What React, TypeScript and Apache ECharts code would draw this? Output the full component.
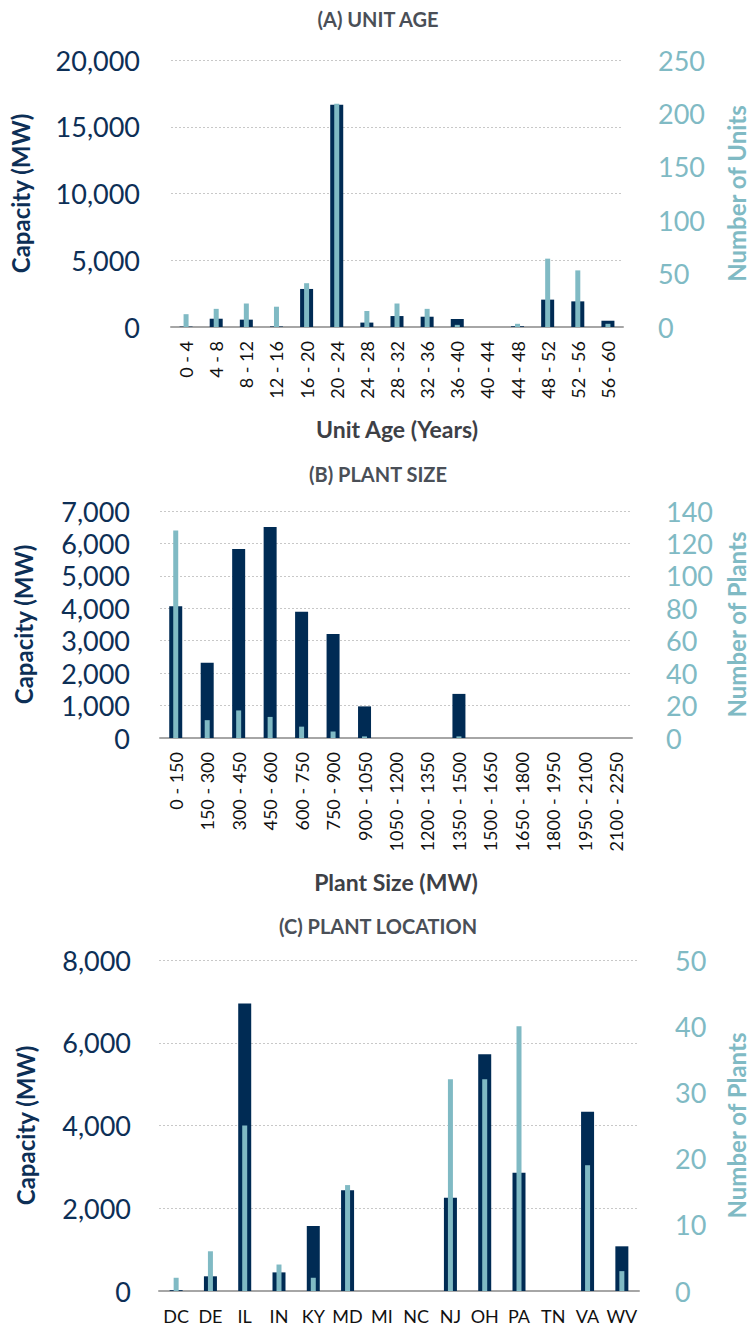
import React, { useEffect, useRef } from "react";
import * as echarts from "echarts";

const ageCats = ["0 - 4", "4 - 8", "8 - 12", "12 - 16", "16 - 20", "20 - 24", "24 - 28", "28 - 32", "32 - 36", "36 - 40", "40 - 44", "44 - 48", "48 - 52", "52 - 56", "56 - 60"];
const ageCapacity = [30, 620, 550, 40, 2850, 16650, 330, 820, 770, 600, 0, 50, 2050, 1920, 470];
const ageUnits = [12, 17, 22, 19, 41, 209, 15, 22, 17, 2, 0, 3, 64, 53, 3];

const sizeCats = ["0 - 150", "150 - 300", "300 - 450", "450 - 600", "600 - 750", "750 - 900", "900 - 1050", "1050 - 1200", "1200 - 1350", "1350 - 1500", "1500 - 1650", "1650 - 1800", "1800 - 1950", "1950 - 2100", "2100 - 2250"];
const sizeCapacity = [4060, 2320, 5830, 6510, 3890, 3210, 975, 0, 0, 1360, 0, 0, 0, 0, 0];
const sizePlants = [128, 11, 17, 13, 7, 4, 1, 0, 0, 1, 0, 0, 0, 0, 0];

const locCats = ["DC", "DE", "IL", "IN", "KY", "MD", "MI", "NC", "NJ", "OH", "PA", "TN", "VA", "WV"];
const locCapacity = [20, 355, 6950, 450, 1570, 2435, 0, 0, 2255, 5725, 2855, 0, 4335, 1080];
const locPlants = [2, 6, 25, 4, 2, 16, 0, 0, 32, 32, 40, 0, 19, 3];

const titles = ["(A) UNIT AGE", "(B) PLANT SIZE", "(C) PLANT LOCATION"];

const DARK = "#002b54";
const LIGHT = "#80bac4";
const NAVY_TEXT = "#0d2f56";
const FONT = "Lato, 'Open Sans', sans-serif";

export default function App() {
  const ref = useRef<HTMLDivElement>(null);
  useEffect(() => {
    if (!ref.current) return;
    const chart = echarts.init(ref.current, undefined, { renderer: "svg" });

    const grids = [
      { left: 166, width: 473, top: 60, height: 267 },
      { left: 160, width: 488, top: 511, height: 227 },
      { left: 159, width: 493, top: 960, height: 331 },
    ];

    const catSets = [ageCats, sizeCats, locCats];
    const xNames = ["Unit Age (Years)", "Plant Size (MW)", ""];
    const xNameGaps = [90, 132, 0];
    const leftMax = [20000, 7000, 8000];
    const leftInt = [5000, 1000, 2000];
    const rightMax = [250, 140, 50];
    const rightInt = [50, 20, 10];
    const rightNames = ["Number of Units", "Number of Plants", "Number of Plants"];
    const leftGaps = [139, 125, 122];
    const rightGaps = [101, 92, 85];
    const leftMargins = [31, 30, 28];
    const rightMargins = [35, 34, 36];
    const capSets = [ageCapacity, sizeCapacity, locCapacity];
    const cntSets = [ageUnits, sizePlants, locPlants];

    const xAxis: any[] = [];
    const yAxis: any[] = [];
    const series: any[] = [];

    for (let i = 0; i < 3; i++) {
      const rotated = i < 2;
      xAxis.push({
        type: "category",
        gridIndex: i,
        data: catSets[i],
        name: xNames[i],
        nameLocation: "middle",
        nameGap: xNameGaps[i],
        nameTextStyle: { fontFamily: FONT, fontWeight: "bold", fontSize: 23, color: "#3d4046" },
        axisTick: { show: false },
        axisLine: { lineStyle: { color: "#a6a6a6", width: 2 } },
        axisLabel: {
          interval: 0,
          rotate: rotated ? 90 : 0,
          margin: rotated ? 14 : 16,
          fontFamily: FONT,
          fontSize: 18,
          color: "#111111",
        },
      });
      xAxis.push({
        type: "category",
        gridIndex: i,
        data: catSets[i],
        show: false,
      });
      yAxis.push({
        type: "value",
        gridIndex: i,
        min: 0,
        max: leftMax[i],
        interval: leftInt[i],
        name: "Capacity (MW)",
        nameLocation: "middle",
        nameGap: leftGaps[i],
        nameRotate: 90,
        nameTextStyle: { fontFamily: FONT, fontWeight: "bold", fontSize: 24, color: NAVY_TEXT },
        axisLine: { show: false },
        axisTick: { show: false },
        splitLine: { lineStyle: { color: "#c8c8c8", type: [2, 2], width: 1 } },
        axisLabel: {
          margin: leftMargins[i],
          fontFamily: FONT,
          fontSize: 27,
          color: NAVY_TEXT,
          formatter: (v: number) => v.toLocaleString("en-US"),
        },
      });
      yAxis.push({
        type: "value",
        gridIndex: i,
        position: "right",
        min: 0,
        max: rightMax[i],
        interval: rightInt[i],
        name: rightNames[i],
        nameLocation: "middle",
        nameGap: rightGaps[i],
        nameRotate: 90,
        nameTextStyle: { fontFamily: FONT, fontWeight: "bold", fontSize: 24, color: LIGHT },
        axisLine: { show: false },
        axisTick: { show: false },
        splitLine: { show: false },
        axisLabel: {
          margin: rightMargins[i],
          fontFamily: FONT,
          fontSize: 27,
          color: LIGHT,
        },
      });
      series.push({
        type: "bar",
        xAxisIndex: i * 2,
        yAxisIndex: i * 2,
        data: capSets[i],
        barWidth: 13,
        itemStyle: { color: DARK },
      });
      series.push({
        type: "bar",
        xAxisIndex: i * 2 + 1,
        yAxisIndex: i * 2 + 1,
        data: cntSets[i],
        barWidth: 5,
        itemStyle: { color: LIGHT },
        z: 3,
      });
    }

    const titleTops = [4, 459, 911];
    chart.setOption({
      animation: false,
      title: titles.map((t, i) => ({
        text: t,
        left: "center",
        top: titleTops[i],
        textStyle: { fontFamily: FONT, fontWeight: "bold", fontSize: 20, color: "#4a4f57" },
      })),
      grid: grids,
      xAxis,
      yAxis,
      series,
    });
    return () => chart.dispose();
  }, []);

  return (
    <div
      ref={ref}
      style={{ position: "absolute", left: 0, top: 0, width: 756, height: 1331, background: "#ffffff" }}
    />
  );
}
